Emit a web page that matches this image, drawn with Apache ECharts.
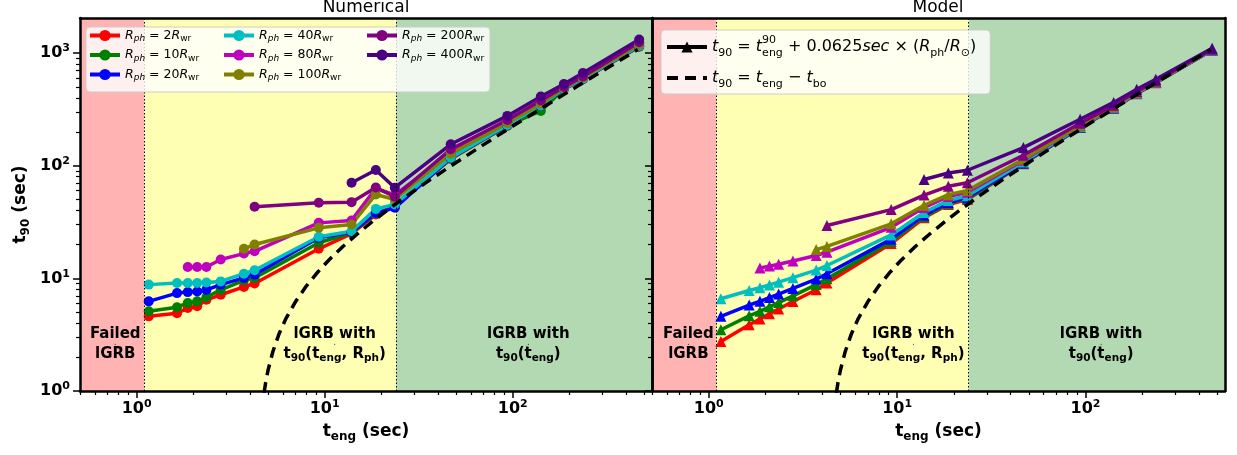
<!DOCTYPE html>
<html><head><meta charset="utf-8">
<script src="https://cdn.jsdelivr.net/npm/echarts@6/dist/echarts.min.js"></script>
<style>html,body{margin:0;padding:0;background:#fff}#c{width:1237px;height:455px}</style>
</head><body><div id="c"></div>
<script>
// ---------------- data ----------------
const tEng = [1.16,1.64,1.87,2.1,2.35,2.8,3.72,4.24,9.3,13.9,18.7,23.6,46.8,93.6,141,187,236,470];
const rphValues = [2,10,20,40,80,100,200,400];
const seriesNames = ['R2','R10','R20','R40','R80','R100','R200','R400'];
const seriesColors = ['#ff0000','#008000','#0000ff','#00bfbf','#bf00bf','#808000','#800080','#4b0082'];

// Numerical panel (t90, sec)
const num2   = [4.6,4.9,5.45,5.65,6.45,7.15,8.4,9.0,18.3,25.0,36.9,43.3,115,226,340,479,587,1140];
const num10  = [5.1,5.55,6.05,6.25,6.8,7.9,9.6,10.1,20.7,25.4,37.5,43.7,116,228,307,481,589,1145];
const num20  = [6.25,7.4,7.55,7.65,7.9,8.8,10.1,10.8,22.9,25.7,38,42.3,117,229,342,482,590,1150];
const num40  = [8.8,9.1,9.1,9.1,9.2,9.4,11.0,11.8,23.4,26.2,41.4,45.3,118,230,343,483,592,1155];
const num80  = [null,null,12.6,12.6,12.6,14.7,16.6,17.4,31.1,32.7,63,55,130,245,360,495,610,1200];
const num100 = [null,null,null,null,null,null,18.3,20.0,28.1,30.1,55.6,50.2,128,240,355,490,605,1190];
const num200 = [null,null,null,null,null,null,null,43.3,46.9,47.5,64,53,140,255,380,500,620,1250];
const num400 = [null,null,null,null,null,null,null,null,null,70.7,91.6,63.8,155,277,412,531,665,1320];

// Model panel (t90, sec)
const mod2   = [2.75,3.87,4.35,4.85,5.34,6.24,7.93,9.1,20.4,34.5,45.3,50.2,104,218,324,436,546,1064];
const mod10  = [3.5,4.65,5.1,5.6,6.1,7.0,8.8,9.9,21.2,35.3,46.1,51.0,105,219,325,437,547,1065];
const mod20  = [4.6,5.8,6.25,6.75,7.25,8.15,9.85,11.0,22.3,36.4,47.2,52.1,106,220,326,438,548,1066];
const mod40  = [6.6,7.8,8.25,8.75,9.25,10.15,11.85,13.0,24.3,38.4,49.2,54.1,108,222,328,440,550,1068];
const mod80  = [null,null,12.35,12.85,13.35,14.25,15.95,17.1,28.4,42.5,53.3,58.2,112,226,332,444,554,1072];
const mod100 = [null,null,null,null,null,null,18.0,19.2,30.5,44.6,55.4,60.3,114,228,334,446,556,1074];
const mod200 = [null,null,null,null,null,null,null,29.5,40.8,54.9,65.7,70.6,124,238,344,456,566,1084];
const mod400 = [null,null,null,null,null,null,null,null,null,75.5,86.3,91.2,145,259,365,477,587,1105];

// dashed curve t90 = teng - tbo
const dashTeng = [4.76,4.85,5.0,5.3,5.7,6.2,7.0,8.0,9.2,10.5,12.5,15,18,22,27,35,50,70,100,150,220,320,462];
const dashT90  = [0.96,1.18,1.53,2.23,3.17,4.35,6.23,8.58,11.4,14.5,19.2,25.0,32.1,41.5,53.2,72.0,107,154,225,342,507,742,1075];

// regions
const regionBounds = [0.5, 1.1, 24, 550];
const regionColors = ['#ffb3b3','#ffffb3','#b3d9b3'];

// axes
const xMin = 0.5, xMax = 550, yMin = 1, yMax = 2050;
const xMajorTicks = [1,10,100];
const xMinorTicks = [0.5,0.6,0.7,0.8,0.9,2,3,4,5,6,7,8,9,20,30,40,50,60,70,80,90,200,300,400,500];
const yMajorTicks = [1,10,100,1000];
const yMinorTicks = [2,3,4,5,6,7,8,9,20,30,40,50,60,70,80,90,200,300,400,500,600,700,800,900];

const numValues = [num2,num10,num20,num40,num80,num100,num200,num400];
const modValues = [mod2,mod10,mod20,mod40,mod80,mod100,mod200,mod400];

// ---------------- chart ----------------
const F = 'DejaVu Sans';
const L = v => Math.log10(v);
const chart = echarts.init(document.getElementById('c'), null, {renderer:'canvas'});

const tickRich = {
  b:{fontFamily:F,fontSize:16,fontWeight:'bold',color:'#000',lineHeight:20},
  s:{fontFamily:F,fontSize:11,fontWeight:'bold',color:'#000',lineHeight:11,verticalAlign:'top'}
};
const nameRich = {
  b:{fontFamily:F,fontSize:17,fontWeight:'bold',color:'#000',lineHeight:22},
  sub:{fontFamily:F,fontSize:12,fontWeight:'bold',color:'#000',lineHeight:12,verticalAlign:'bottom'}
};
const powFmt = v => '{b|10}{s|' + Math.round(v) + '}';

function xAxes(g){
  const base = {type:'value', gridIndex:g, min:L(xMin), max:L(xMax), z:3, splitLine:{show:false}};
  return [
    Object.assign({}, base, {position:'bottom',
      axisLine:{show:true,onZero:false,lineStyle:{color:'#000',width:2.5}},
      axisTick:{show:true,customValues:xMajorTicks.map(L),length:7,lineStyle:{color:'#000',width:1.5}},
      axisLabel:{show:true,customValues:xMajorTicks.map(L),formatter:powFmt,rich:tickRich,margin:8},
      name:'{b|t}{sub|eng}{b| (sec)}', nameLocation:'middle', nameGap:30,
      nameTextStyle:{fontFamily:F,fontSize:17,fontWeight:'bold',color:'#000',rich:nameRich}}),
    Object.assign({}, base, {position:'bottom',
      axisLine:{show:false,onZero:false},
      axisTick:{show:true,customValues:xMinorTicks.map(L),length:4,lineStyle:{color:'#000',width:1.2}},
      axisLabel:{show:false}}),
    Object.assign({}, base, {position:'top',
      axisLine:{show:true,onZero:false,lineStyle:{color:'#000',width:2.5}},
      axisTick:{show:false}, axisLabel:{show:false}})
  ];
}
function yAxes(g, labels){
  const base = {type:'value', gridIndex:g, min:L(yMin), max:L(yMax), z:3, splitLine:{show:false}};
  const major = Object.assign({}, base, {position:'left',
      axisLine:{show:true,onZero:false,lineStyle:{color:'#000',width:2.5}},
      axisTick:{show:true,customValues:yMajorTicks.map(L),length:7,lineStyle:{color:'#000',width:1.5}},
      axisLabel:{show:labels,customValues:yMajorTicks.map(L),formatter:powFmt,rich:tickRich,margin:10}});
  if (labels) Object.assign(major, {name:'{b|t}{sub|90}{b| (sec)}', nameLocation:'middle', nameRotate:90, nameGap:48,
      nameTextStyle:{fontFamily:F,fontSize:17,fontWeight:'bold',color:'#000',rich:nameRich}});
  return [major,
    Object.assign({}, base, {position:'left',
      axisLine:{show:false,onZero:false},
      axisTick:{show:true,customValues:yMinorTicks.map(L),length:4,lineStyle:{color:'#000',width:1.2}},
      axisLabel:{show:false}}),
    Object.assign({}, base, {position:'right',
      axisLine:{show:true,onZero:false,lineStyle:{color:'#000',width:2.5}},
      axisTick:{show:false}, axisLabel:{show:false}})
  ];
}

function regionSeries(g){
  return {
    type:'line', name:'region'+g, xAxisIndex:g*3, yAxisIndex:g*3, data:[], z:1, silent:true,
    markArea:{silent:true, data: regionColors.map((c,i)=>[
      {xAxis:L(regionBounds[i]), itemStyle:{color:c, opacity:1, borderWidth:0}},
      {xAxis:L(regionBounds[i+1])}])},
    markLine:{silent:true, symbol:['none','none'], label:{show:false},
      lineStyle:{color:'#000',width:1,type:[1.5,2]},
      data:[{xAxis:L(regionBounds[1])},{xAxis:L(regionBounds[2])}]}
  };
}

const annRich = {
  b:{fontFamily:F,fontSize:15,fontWeight:'bold',color:'#000',lineHeight:20,opacity:1},
  bs:{fontFamily:F,fontSize:10.5,fontWeight:'bold',color:'#000',lineHeight:10,verticalAlign:'bottom',opacity:1}
};
const annTexts = [
  '{b|Failed}\n{b|lGRB}',
  '{b|lGRB with}\n{b|t}{bs|90}{b|(t}{bs|eng}{b|, R}{bs|ph}{b|)}',
  '{b|lGRB with}\n{b|t}{bs|90}{b|(t}{bs|eng}{b|)}'
];
function annSeries(g, pts){
  return {
    type:'scatter', name:'ann'+g, xAxisIndex:g*3, yAxisIndex:g*3, z:3, silent:true,
    symbol:'circle', symbolSize:1, itemStyle:{color:'#000', opacity:1}, 
    data: pts.map((p,i)=>({value:[L(p[0]),L(p[1])], label:{formatter:annTexts[i]}})),
    label:{show:true, position:'inside', align:'center', verticalAlign:'middle', color:'#000',
      textBorderWidth:0, textShadowBlur:0, opacity:1, rich:annRich}
  };
}

function dataSeries(g, valuesList, symbol, size){
  return valuesList.map((vals,k)=>({
    type:'line', name:seriesNames[k], xAxisIndex:g*3, yAxisIndex:g*3, z:4,
    data: tEng.map((t,i)=> vals[i]==null ? null : [L(t), L(vals[i])]).filter(p=>p),
    symbol:symbol, symbolSize:size, showSymbol:true, showAllSymbol:true,
    lineStyle:{width:3.5, color:seriesColors[k]}, itemStyle:{color:seriesColors[k]},
    animation:false
  }));
}
function dashSeries(g){
  return {type:'line', name:'dashed', xAxisIndex:g*3, yAxisIndex:g*3, z:5,
    data: dashTeng.map((t,i)=>[L(t), L(dashT90[i])]), showSymbol:false, symbol:'none',
    lineStyle:{color:'#000', width:3.5, type:[11,7]}, itemStyle:{color:'#000'}, animation:false};
}

const legRich = {
  i:{fontFamily:F,fontSize:12.5,fontStyle:'italic',color:'#000',lineHeight:16},
  isub:{fontFamily:F,fontSize:9,fontStyle:'italic',color:'#000',lineHeight:9,verticalAlign:'bottom'},
  n:{fontFamily:F,fontSize:12.5,color:'#000',lineHeight:16},
  sub:{fontFamily:F,fontSize:9,color:'#000',lineHeight:9,verticalAlign:'bottom'}
};
const leg2Rich = {
  i:{fontFamily:F,fontSize:16,fontStyle:'italic',color:'#000',lineHeight:24},
  n:{fontFamily:F,fontSize:16,color:'#000',lineHeight:24},
  sub:{fontFamily:F,fontSize:11,color:'#000',lineHeight:14,verticalAlign:'bottom'},
  sup:{fontFamily:F,fontSize:11,color:'#000',lineHeight:14,verticalAlign:'top',width:0}
};
const legFmt = name => '{i|R}{isub|ph}{n| = ' + rphValues[seriesNames.indexOf(name)] + '}{i|R}{sub|wr}';
function leftLegend(names, left){
  return {data:names, orient:'vertical', left:left, top:29, itemGap:5, itemWidth:30, itemHeight:14,
    padding:0, z:20, selectedMode:false, lineStyle:{width:4},
    textStyle:{fontFamily:F,fontSize:12.5,color:'#000',rich:legRich}, formatter:legFmt};
}

const series = [
  regionSeries(0), regionSeries(1),
  ...dataSeries(0, numValues, 'circle', 10),
  dashSeries(0),
  ...dataSeries(1, modValues, 'triangle', 11),
  dashSeries(1),
  {type:'line', name:'model', xAxisIndex:3, yAxisIndex:3, data:[], symbol:'triangle', symbolSize:11,
   lineStyle:{color:'#000',width:3.5}, itemStyle:{color:'#000'}},
  annSeries(0, [[0.77,2.6],[11.3,2.6],[121,2.6]]),
  annSeries(1, [[0.78,2.6],[12.2,2.6],[121,2.6]])
];

const option = {
  animation:false,
  backgroundColor:'#fff',
  grid:[
    {left:80, top:18, width:572, height:373, show:false},
    {left:652, top:18, width:573, height:373, show:false}
  ],
  xAxis:[...xAxes(0), ...xAxes(1)],
  yAxis:[...yAxes(0,true), ...yAxes(1,false)],
  legend:[
    leftLegend(['R2','R10','R20'], 88),
    leftLegend(['R40','R80','R100'], 222),
    leftLegend(['R200','R400'], 365),
    {data:['model', {name:'dashed', itemStyle:{color:'rgba(0,0,0,0)', borderWidth:0}}],
     orient:'vertical', left:661, top:30, itemGap:11, itemWidth:40, itemHeight:14,
     padding:[5,14,4,4], backgroundColor:'rgba(255,255,255,0.8)', borderColor:'#cccccc', borderWidth:1, borderRadius:4,
     z:20, selectedMode:false, lineStyle:{width:4},
     textStyle:{fontFamily:F,fontSize:16,color:'#000',rich:leg2Rich},
     formatter: name => name==='model'
       ? '{i|t}{sub|90}{n| = }{i|t}{sup|90}{sub|eng}{n| + 0.0625}{i|sec}{n| × (}{i|R}{sub|ph}{n|/}{i|R}{sub|⊙}{n|)}'
       : '{i|t}{sub|90}{n| = }{i|t}{sub|eng}{n| − }{i|t}{sub|bo}'}
  ],
  graphic:[
    {type:'rect', x:86, y:27, z:15, shape:{width:404, height:65, r:4},
     style:{fill:'rgba(255,255,255,0.8)', stroke:'#cccccc', lineWidth:1}},
    {type:'text', x:366, y:-1, z:20, style:{text:'Numerical', font:'17px "DejaVu Sans"', fill:'#000', align:'center', verticalAlign:'top'}},
    {type:'text', x:938, y:-1, z:20, style:{text:'Model', font:'17px "DejaVu Sans"', fill:'#000', align:'center', verticalAlign:'top'}}
  ],
  series: series
};
chart.setOption(option);
</script>
</body></html>
